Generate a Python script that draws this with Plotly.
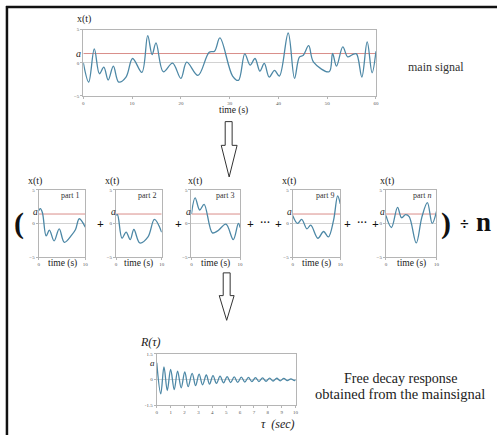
import plotly.graph_objects as go

W, H = 500, 438
SERIF = "Liberation Serif"

# ---------------- data ----------------
A_LEVEL = 1.4          # level "a" in the x(t) plots

main_t = [0, 1.1, 2.25, 3.3, 4.2, 5.1, 6.15, 7.25, 8.75, 10.1, 12.0, 13.2, 14.1, 14.9,
          16.4, 18.3, 20.0, 21.2, 23.5, 25.8, 26.9, 28.0, 30.6, 31.8, 33.1, 34.2, 35.2,
          36.2, 37.1, 38.1, 39.2, 40.2, 42.0, 43.3, 44.3, 45.1, 46.2, 47.2, 50.4, 51.1,
          51.9, 53.2, 54.2, 55.2, 56.0, 57.1, 58.2, 59.2, 60.0]
main_x = [0.0, -2.9, 2.1, -1.65, -0.65, -2.6, -0.5, -2.9, -2.15, 0.65, -1.45, 4.1, 1.25, 3.0,
          -1.35, -0.05, -2.35, 0.1, -1.9, 1.6, 1.75, 3.75, -2.0, -2.65, 1.35, -0.35, 0.65,
          -1.25, -0.1, -2.15, -1.15, -2.0, 4.5, -2.35, 0.85, 1.15, 2.6, 0.1, -1.35, 1.4,
          -0.5, 2.4, 0.9, 1.25, 1.35, -2.15, 3.15, -1.5, 1.75]

part1_t = [0, 0.35, 0.8, 1.6, 2.3, 3.3, 4.4, 5.5, 7.1, 7.9, 8.7, 10]
part1_x = [1.9, 2.2, 1.6, -1.85, -1.0, -2.6, -0.8, -2.8, -1.7, -0.9, 0.7, -0.55]

part2_t = [0, 0.3, 1.3, 2.2, 3.1, 3.9, 5.2, 7.0, 8.4, 10]
part2_x = [1.2, 1.3, -2.2, -1.3, -2.4, -0.9, -2.9, -2.0, 0.6, -1.3]

part3_t = [0, 0.75, 1.7, 2.6, 4.3, 5.4, 7.1, 8.6, 9.65, 10]
part3_x = [1.4, 3.8, 2.0, 2.85, -1.4, -1.1, -0.1, -2.4, 0.0, -0.6]

part9_t = [0, 1.05, 1.9, 3.0, 3.8, 5.3, 6.5, 7.5, 8.6, 9.45, 10]
part9_x = [1.2, 0.0, 0.6, -0.8, -0.25, -2.2, -1.2, -2.0, 0.5, 4.1, 2.9]

partn_t = [0, 1.1, 2.3, 3.1, 3.9, 4.6, 6.0, 7.1, 8.2, 9.15, 10]
partn_x = [1.2, -0.6, 2.4, 0.85, 1.3, 1.0, -2.9, 0.9, 3.1, 0.0, 1.8]

part_labels = ["part 1", "part 2", "part 3", "part 9", "part <i>n</i>"]

tau = [0, 0.29, 0.52, 0.76, 1.0, 1.26, 1.5, 1.76, 2.02, 2.26, 2.55, 2.8, 3.05, 3.3,
       3.57, 3.8, 4.05, 4.3, 4.56, 4.81, 5.07, 5.32, 5.58, 5.83, 6.09, 6.34, 6.6, 6.85,
       7.11, 7.36, 7.62, 7.87, 8.13, 8.38, 8.64, 8.89, 9.15, 9.4, 9.66, 9.91, 10.0]
R_tau = [0.98, -0.83, 0.74, -0.64, 0.6, -0.58, 0.5, -0.48, 0.45, -0.41, 0.37, -0.35,
         0.32, -0.3, 0.27, -0.26, 0.23, -0.22, 0.2, -0.19, 0.18, -0.17, 0.16, -0.16,
         0.15, -0.14, 0.13, -0.12, 0.12, -0.11, 0.1, -0.1, 0.09, -0.08, 0.08, -0.07,
         0.07, -0.06, 0.05, -0.05, 0.0]

main_xticks = [0, 10, 20, 30, 40, 50, 60]
part_xticks = [0, 10]
sig_yticks = [-5, 0, 5]
decay_xticks = [0, 1, 2, 3, 4, 5, 6, 7, 8, 9, 10]
decay_yticks = [-1.5, 0, 1.5]
decay_yticklabels = ["-1.5", "0", "1.5"]

# ---------------- helpers ----------------
def fx(px):
    return px / W

def fy(py):
    return 1 - py / H

SIG_COLOR = "#4d88a6"
RED = "#d98e8a"
FRAME = "#b5b5b5"

fig = go.Figure()
layout = dict(width=W, height=H, margin=dict(l=0, r=0, t=0, b=0),
              paper_bgcolor="white", plot_bgcolor="white", showlegend=False)

def add_axes(i, box, xr, yr, xt, yt, ytl=None):
    l, r, t, b = box
    tickfont = dict(family=SERIF, size=5, color="#555")
    layout["xaxis%d" % i] = dict(domain=[fx(l), fx(r)], anchor="y%d" % i, range=xr,
                                 showline=True, mirror=True, linecolor=FRAME, linewidth=1,
                                 showgrid=False, zeroline=False, ticks="outside", ticklen=2,
                                 tickcolor=FRAME, tickvals=xt, tickfont=tickfont, fixedrange=True)
    layout["yaxis%d" % i] = dict(domain=[fy(b), fy(t)], anchor="x%d" % i, range=yr,
                                 showline=True, mirror=True, linecolor=FRAME, linewidth=1,
                                 showgrid=False, zeroline=True, zerolinecolor="#d2d2d2",
                                 zerolinewidth=1, ticks="outside", ticklen=2, tickcolor=FRAME,
                                 tickvals=yt, ticktext=ytl, tickfont=tickfont, fixedrange=True)

def add_signal(i, t, x, xr, a=None):
    ax = dict(xaxis="x%d" % i, yaxis="y%d" % i)
    if a is not None:
        fig.add_trace(go.Scatter(x=xr, y=[a, a], mode="lines",
                                 line=dict(color=RED, width=1), hoverinfo="skip", **ax))
    fig.add_trace(go.Scatter(x=t, y=x, mode="lines",
                             line=dict(color=SIG_COLOR, width=1.3, shape="spline", smoothing=1.0),
                             hoverinfo="skip", **ax))

annotations = []

def text(px, py, s, size, bold=False, italic=False, color="#222", xanchor="center"):
    if bold:
        s = "<b>%s</b>" % s
    if italic:
        s = "<i>%s</i>" % s
    annotations.append(dict(x=fx(px), y=fy(py), xref="paper", yref="paper", text=s,
                            showarrow=False, xanchor=xanchor, yanchor="middle",
                            font=dict(family=SERIF, size=size, color=color)))

# ---------------- main signal ----------------
MAIN_BOX = (83, 378, 28, 95)
add_axes(1, MAIN_BOX, [0, 60], [-5, 5], main_xticks, sig_yticks)
add_signal(1, main_t, main_x, [0, 60], A_LEVEL)
text(84, 17, "x(t)", 10)
text(234, 110, "time (s)", 9.5)
text(78, 52, "a", 10, italic=True)
text(439, 66, "main signal", 12, color="#333")

# ---------------- parts ----------------
part_boxes = [(38, 85, 190, 258), (116, 162, 190, 258), (192, 241, 190, 258),
              (294, 342, 190, 258), (388, 439, 190, 258)]
part_data = [(part1_t, part1_x), (part2_t, part2_x), (part3_t, part3_x),
             (part9_t, part9_x), (partn_t, partn_x)]
xt_centers = [34, 112, 196, 290, 389]
for k, (box, (t, x)) in enumerate(zip(part_boxes, part_data)):
    i = k + 2
    add_axes(i, box, [0, 10], [-5, 5], part_xticks, sig_yticks)
    add_signal(i, t, x, [0, 10], A_LEVEL)
    l, r, tp, b = box
    text(xt_centers[k], 181, "x(t)", 10)
    text(r - 4, 196, part_labels[k], 8, color="#333", xanchor="right")
    text((l + r) / 2, 265, "time (s)", 9.5, color="#222")
    text(l - 3, 212, "a", 9.5, italic=True)

# operators
text(18, 224, "(", 30, bold=True, color="#111")
for px in [100, 179, 252, 280, 349, 378]:
    text(px, 225, "+", 12, bold=True, color="#111")
for px in [266, 364]:
    text(px, 223, "···", 10, bold=True, color="#111")
text(449, 224, ")", 30, bold=True, color="#111")
text(467, 225, "÷", 16, bold=True, color="#111")
text(486, 223, "n", 27, bold=True, color="#111")

# ---------------- free decay ----------------
DECAY_BOX = (157, 297, 356, 408)
add_axes(7, DECAY_BOX, [0, 10], [-1.5, 1.5], decay_xticks, decay_yticks, decay_yticklabels)
add_signal(7, tau, R_tau, [0, 10], None)
text(151, 344, "R(τ)", 12, italic=True)
text(153, 365, "a", 9, italic=True)
text(279, 427, "τ  (sec)", 12, italic=True)
text(403, 381, "Free decay response", 14, color="#222")
text(402, 397, "obtained from the mainsignal", 14.5, color="#222")

# ---------------- arrows and frame ----------------
def arrow_path(xl, xr, top, neck, hl, hr, tip):
    pts = [(xl, top), (xr, top), (xr, neck), (hr, neck), ((hl + hr) / 2, tip),
           (hl, neck), (xl, neck)]
    return "M " + " L ".join("%f,%f" % (fx(a), fy(b)) for a, b in pts) + " Z"

shapes = []
for args in [(226, 233, 121, 145, 222, 238, 177), (224, 231, 274, 297, 220, 235, 322)]:
    shapes.append(dict(type="path", xref="paper", yref="paper", path=arrow_path(*args),
                       line=dict(color="#333", width=1), fillcolor="white"))
shapes.append(dict(type="line", xref="paper", yref="paper", x0=fx(6), x1=fx(6),
                   y0=fy(4), y1=fy(438), line=dict(color="#111", width=2.5)))
shapes.append(dict(type="line", xref="paper", yref="paper", x0=fx(5), x1=fx(500),
                   y0=fy(5), y1=fy(5), line=dict(color="#111", width=2.5)))

layout["annotations"] = annotations
layout["shapes"] = shapes
fig.update_layout(**layout)
fig.write_html("out.html", config={"displayModeBar": False},
               post_script="document.body.style.margin='0';")
